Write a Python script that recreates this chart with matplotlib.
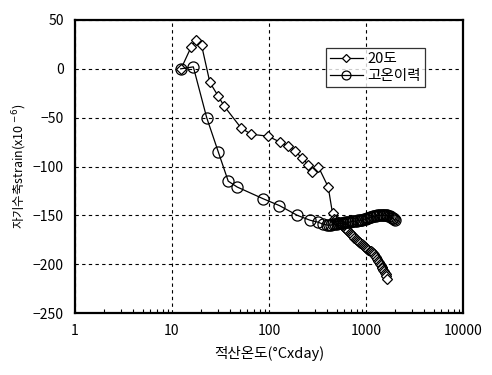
import matplotlib
matplotlib.use("Agg")
import matplotlib.pyplot as plt
from matplotlib.ticker import LogLocator, NullFormatter, FixedLocator

plt.rcParams['font.family'] = ['Noto Sans CJK KR', 'DejaVu Sans']

# -----------------------------
# Data
# -----------------------------
# 20도 series
x_20 = [12.4, 15.7, 17.7, 20.2, 24.6, 30, 34.4, 52, 66, 98, 130, 158, 185,
        217, 254, 275, 322, 408, 452,
        470, 485, 500, 515, 530, 548, 562, 575, 590, 605, 620, 640, 660,
        680, 700, 720, 740, 760, 780, 800, 825, 850, 875, 900, 925, 950,
        975, 1000, 1030, 1060, 1090, 1120, 1150, 1180, 1210, 1240, 1270,
        1300, 1330, 1360, 1390, 1420, 1450, 1480, 1510, 1540, 1570, 1600,
        1625, 1645]
y_20 = [0, 22, 30, 24, -14, -28, -38, -61, -67, -69, -75, -79, -84,
        -91, -98, -106, -100, -121, -148,
        -154, -155, -156, -157, -158, -159, -160, -161, -162, -163, -164,
        -165, -166, -168, -169, -170, -171, -173, -174, -175, -176, -177,
        -178, -179, -180, -181, -182, -183, -184, -185, -186, -187, -188,
        -189, -190, -192, -193, -195, -197, -198, -200, -201, -203, -204,
        -206, -207, -209, -210, -212, -215]

# 고온이력 series
x_hot = [12.3, 16.6, 22.8, 30, 38, 47, 87, 128, 196, 265, 320, 360, 400,
         420, 440, 460, 480, 500, 520, 540, 560, 585, 610, 635, 660, 685,
         710, 740, 770, 800, 830, 860, 890, 920, 955, 990, 1025, 1060,
         1100, 1140, 1180, 1220, 1260, 1300, 1350, 1400, 1450, 1500, 1550,
         1600, 1650, 1700, 1750, 1800, 1850, 1900, 1950, 1990]
y_hot = [0, 2, -50, -85, -115, -121, -133, -140, -150, -155, -157, -159, -160,
         -160, -160, -159, -159, -159, -158, -158, -158, -158, -157, -157,
         -157, -157, -156, -156, -156, -156, -155, -155, -155, -155, -154,
         -154, -153, -153, -152, -152, -151, -151, -151, -150, -150, -150,
         -150, -150, -150, -150, -150, -151, -151, -152, -153, -153, -154,
         -155]

y_ticks = [50, 0, -50, -100, -150, -200, -250]
x_ticks = [1, 10, 100, 1000, 10000]

# -----------------------------
# Plot
# -----------------------------
fig = plt.figure(figsize=(4.92, 3.75), dpi=100)
ax = fig.add_axes([0.1524, 0.1653, 0.7886, 0.7814])

ax.plot(x_20, y_20, color="black", linewidth=0.9, marker="D",
        markersize=5, markerfacecolor="white", markeredgecolor="black",
        markeredgewidth=0.9, label="20도")
ax.plot(x_hot, y_hot, color="black", linewidth=0.9, marker="o",
        markersize=8, markerfacecolor="none", markeredgecolor="black",
        markeredgewidth=0.9, label="고온이력")

ax.set_xscale("log")
ax.set_xlim(1, 10000)
ax.set_ylim(-250, 50)
ax.xaxis.set_major_locator(FixedLocator(x_ticks))
ax.set_xticklabels([str(v) for v in x_ticks])
ax.xaxis.set_minor_locator(LogLocator(base=10, subs=range(2, 10)))
ax.xaxis.set_minor_formatter(NullFormatter())
ax.set_yticks(y_ticks)

ax.grid(True, which="major", color="black", linestyle=(0, (3, 3)),
        linewidth=0.8)
ax.tick_params(axis="both", which="both", direction="in", labelsize=10)
ax.tick_params(axis="both", which="major", length=0, pad=8)
ax.tick_params(axis="x", which="minor", length=3, width=0.8)

for s in ax.spines.values():
    s.set_linewidth(1.6)

ax.set_xlabel("적산온도(°Cxday)", fontsize=10.5, labelpad=6)
ax.set_ylabel("자기수축strain(x10 $^{-6}$)", fontsize=9, labelpad=3)

leg = ax.legend(loc="upper left", bbox_to_anchor=(0.647, 0.903),
                fontsize=10.5, frameon=True, fancybox=False, edgecolor="black",
                markerscale=0.8, handlelength=2.3, borderpad=0.25,
                labelspacing=0.2, handletextpad=0.3, borderaxespad=0)
leg.get_frame().set_linewidth(0.9)

fig.savefig("out.png", dpi=100)
